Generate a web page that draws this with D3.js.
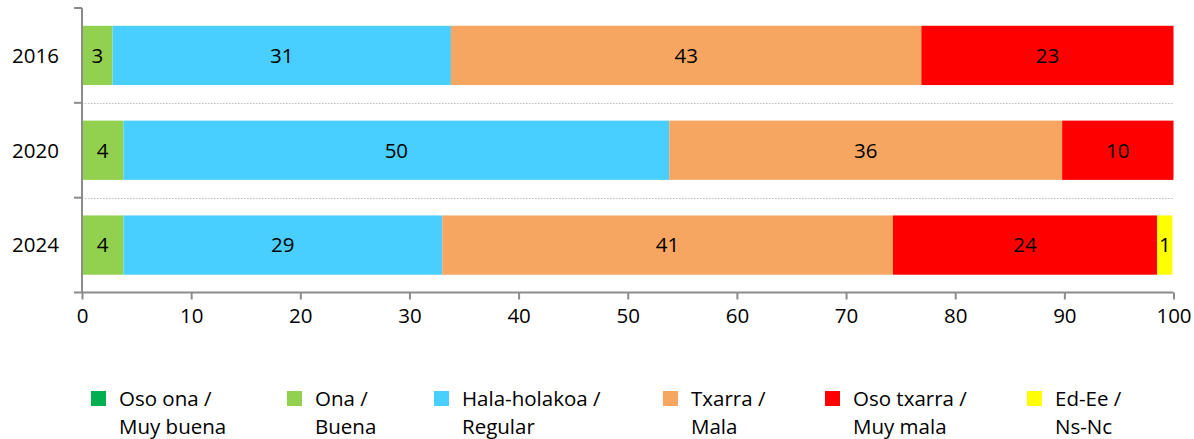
<!DOCTYPE html>
<html>
<head>
<meta charset="utf-8">
<script src="https://cdn.jsdelivr.net/npm/d3@7"></script>
<style>
  html, body { margin: 0; padding: 0; background: #fff; }
  svg { display: block; }
  text { font-family: "Open Sans", sans-serif; fill: #000; }
</style>
</head>
<body>
<svg id="chart" width="1194" height="439"></svg>
<script>
const years = ["2016", "2020", "2024"];
const seriesNames = ["Oso ona / Muy buena", "Ona / Buena", "Hala-holakoa / Regular", "Txarra / Mala", "Oso txarra / Muy mala", "Ed-Ee / Ns-Nc"];
const legendLine1 = ["Oso ona /", "Ona /", "Hala-holakoa /", "Txarra /", "Oso txarra /", "Ed-Ee /"];
const legendLine2 = ["Muy buena", "Buena", "Regular", "Mala", "Muy mala", "Ns-Nc"];
const colors = ["#00B050", "#92D050", "#48CFFF", "#F7A661", "#FF0000", "#FFFF00"];
const osoOna     = [0, 0, 0];
const ona        = [2.8, 3.8, 3.8];
const halaHola   = [31.0, 50.0, 29.2];
const txarra     = [43.1, 36.0, 41.3];
const osoTxarra  = [23.1, 10.2, 24.2];
const edEe       = [0, 0, 1.4];
const xTicks = [0, 10, 20, 30, 40, 50, 60, 70, 80, 90, 100];

const seriesValues = [osoOna, ona, halaHola, txarra, osoTxarra, edEe];
const rows = years.map((yr, i) => {
  const r = { year: yr };
  seriesNames.forEach((s, k) => r[s] = seriesValues[k][i]);
  return r;
});
const stacked = d3.stack().keys(seriesNames)(rows);

const svg = d3.select("#chart");
const mLeft = 82, mRight = 1173.5, mTop = 8, mBottom = 292.5;
const x = d3.scaleLinear().domain([0, 100]).range([mLeft, mRight]);
const y = d3.scaleBand().domain(years).range([mTop, mBottom]).paddingInner(0.375).paddingOuter(0.1875);
const color = d3.scaleOrdinal().domain(seriesNames).range(colors);
const axisColor = "#8c8c8c";
const fs = 20.5;

// category boundaries
const step = y.step();
const boundaries = [mTop].concat(years.map(c => y(c) - y.paddingInner() * step / 2 + step));
boundaries[boundaries.length - 1] = mBottom;

// gridlines between categories (dotted)
svg.append("g").selectAll("line").data(boundaries.slice(1, -1)).join("line")
  .attr("x1", mLeft).attr("x2", mRight)
  .attr("y1", d => Math.round(d) + 0.5).attr("y2", d => Math.round(d) + 0.5)
  .attr("stroke", "#bdbdbd").attr("stroke-width", 1).attr("stroke-dasharray", "1.5,1.5");

// bars
const g = svg.append("g");
stacked.forEach(layer => {
  g.append("g").selectAll("rect").data(layer).join("rect")
    .attr("x", d => x(d[0]))
    .attr("y", d => y(d.data.year))
    .attr("width", d => x(d[1]) - x(d[0]))
    .attr("height", y.bandwidth())
    .attr("fill", color(layer.key));
});
stacked.forEach(layer => {
  g.append("g").selectAll("text").data(layer.filter(d => d[1] - d[0] > 0)).join("text")
    .attr("x", d => (x(d[0]) + x(d[1])) / 2)
    .attr("y", d => y(d.data.year) + y.bandwidth() / 2)
    .attr("dy", "0.36em")
    .attr("text-anchor", "middle")
    .attr("font-size", fs)
    .text(d => Math.round(d[1] - d[0]));
});

// x axis
const xAxis = d3.axisBottom(x).tickValues(xTicks).tickSize(7).tickPadding(9).tickSizeOuter(0);
const gx = svg.append("g").attr("transform", `translate(0,${mBottom})`).call(xAxis);
gx.select(".domain").attr("stroke", axisColor).attr("stroke-width", 2).attr("d", `M${mLeft - 8},0H${mRight}`);
gx.selectAll(".tick line").attr("stroke", axisColor).attr("stroke-width", 2);
gx.selectAll(".tick text").attr("font-size", fs).attr("font-family", "Open Sans, sans-serif").attr("fill", "#000");

// y axis
const gy = svg.append("g");
gy.append("line").attr("x1", mLeft).attr("x2", mLeft).attr("y1", mTop).attr("y2", mBottom)
  .attr("stroke", axisColor).attr("stroke-width", 2);
gy.selectAll("line.tk").data(boundaries.slice(0, -1)).join("line").attr("class", "tk")
  .attr("x1", mLeft - 8).attr("x2", mLeft).attr("y1", d => d).attr("y2", d => d)
  .attr("stroke", axisColor).attr("stroke-width", 2);
gy.selectAll("text").data(years).join("text")
  .attr("x", 59).attr("y", d => y(d) + y.bandwidth() / 2).attr("dy", "0.36em")
  .attr("text-anchor", "end").attr("font-size", fs).text(d => d);

// legend
const legendX = [91, 287, 434, 663, 825, 1027];
const lg = svg.append("g");
seriesNames.forEach((s, i) => {
  const item = lg.append("g").attr("transform", `translate(${legendX[i]},0)`);
  item.append("rect").attr("x", 0).attr("y", 391).attr("width", 15).attr("height", 15).attr("fill", color(s));
  item.append("text").attr("x", 28).attr("y", 406).attr("font-size", fs).text(legendLine1[i]);
  item.append("text").attr("x", 28).attr("y", 434).attr("font-size", fs).text(legendLine2[i]);
});
</script>
</body>
</html>
